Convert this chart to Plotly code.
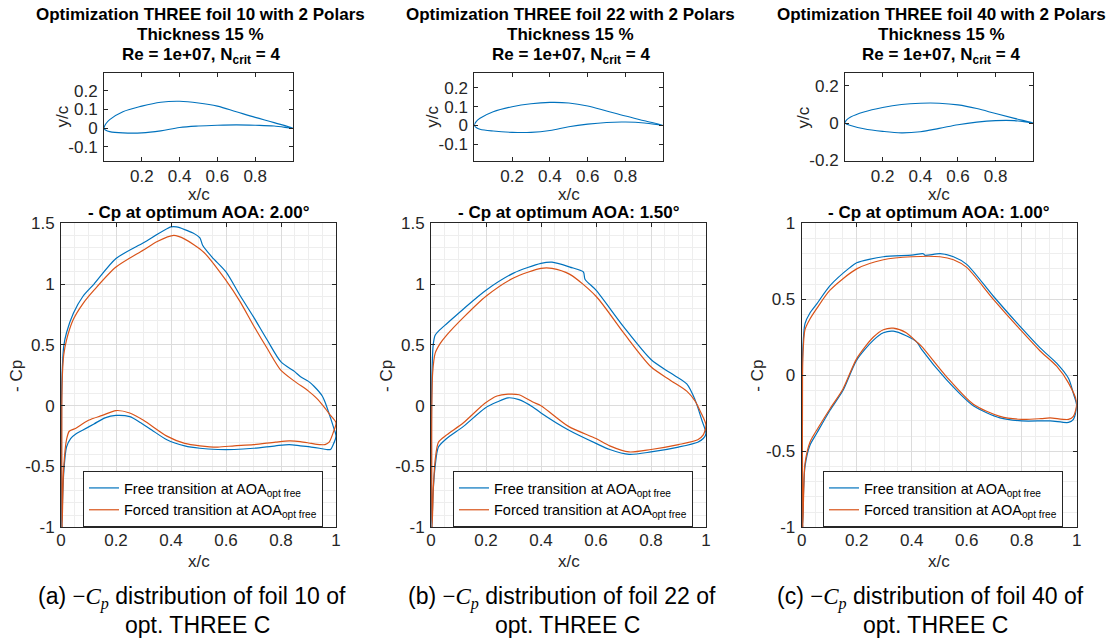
import plotly.graph_objects as go

# ---------------- data ----------------
foil_ids = ["10", "22", "40"]
aoa_opt = ["2.00", "1.50", "1.00"]
caption_letters = ["a", "b", "c"]

cp_x_ticks = [0, 0.2, 0.4, 0.6, 0.8, 1]
cp_x_ticktext = ["0", "0.2", "0.4", "0.6", "0.8", "1"]
cp_y_ticks_12 = [-1, -0.5, 0, 0.5, 1, 1.5]
cp_y_ticktext_12 = ["-1", "-0.5", "0", "0.5", "1", "1.5"]
cp_y_ticks_3 = [-1, -0.5, 0, 0.5, 1]
cp_y_ticktext_3 = ["-1", "-0.5", "0", "0.5", "1"]
foil_x_ticks = [0.2, 0.4, 0.6, 0.8]
foil_x_ticktext = ["0.2", "0.4", "0.6", "0.8"]
foil_y_ticks_12 = [-0.1, 0, 0.1, 0.2]
foil_y_ticktext_12 = ["-0.1", "0", "0.1", "0.2"]
foil_y_ticks_3 = [-0.2, 0, 0.2]
foil_y_ticktext_3 = ["-0.2", "0", "0.2"]

# airfoil geometry (upper TE->LE, lower LE->TE)
foil_x_up = [1.0, 0.9, 0.8, 0.7, 0.6, 0.5, 0.4, 0.3, 0.2, 0.1, 0.03, 0.01, 0.0]
foil_x_lo = [0.0, 0.01, 0.03, 0.1, 0.2, 0.3, 0.4, 0.5, 0.6, 0.7, 0.8, 0.9, 1.0]
foil10_y_up = [0.0, 0.03, 0.058, 0.088, 0.118, 0.135, 0.144, 0.139, 0.118, 0.088, 0.046, 0.024, 0.0]
foil10_y_lo = [0.0, -0.011, -0.018, -0.025, -0.025, -0.014, 0.004, 0.012, 0.016, 0.018, 0.016, 0.012, 0.0]
foil22_y_up = [0.0, 0.025, 0.05, 0.077, 0.104, 0.12, 0.123, 0.116, 0.1, 0.073, 0.038, 0.02, 0.0]
foil22_y_lo = [0.0, -0.011, -0.02, -0.03, -0.037, -0.037, -0.027, -0.007, 0.007, 0.016, 0.018, 0.013, 0.0]
foil40_y_up = [0.0, 0.025, 0.051, 0.078, 0.098, 0.107, 0.107, 0.1, 0.084, 0.06, 0.033, 0.018, 0.0]
foil40_y_lo = [0.0, -0.006, -0.013, -0.031, -0.045, -0.053, -0.047, -0.029, -0.009, 0.005, 0.013, 0.013, 0.0]

# -Cp, foil 10 (free = blue, forced = red)
f10_free_x_up = [1.0, 0.99, 0.98, 0.96, 0.95, 0.92, 0.9, 0.87, 0.85, 0.8, 0.75, 0.7, 0.65, 0.6, 0.55, 0.515, 0.505, 0.48, 0.42, 0.4, 0.3, 0.2, 0.12, 0.08, 0.045, 0.02, 0.01, 0.005, 0.002]
f10_free_y_up = [-0.25, -0.17, -0.1, 0.03, 0.08, 0.16, 0.2, 0.24, 0.28, 0.36, 0.54, 0.73, 0.91, 1.1, 1.22, 1.32, 1.38, 1.42, 1.47, 1.47, 1.34, 1.21, 1.0, 0.9, 0.76, 0.6, 0.49, 0.32, 0.05]
f10_free_x_lo = [0.003, 0.006, 0.01, 0.02, 0.035, 0.055, 0.08, 0.12, 0.16, 0.2, 0.25, 0.29, 0.33, 0.385, 0.45, 0.505, 0.57, 0.63, 0.7, 0.78, 0.83, 0.87, 0.91, 0.94, 0.965, 0.98, 0.99, 1.0]
f10_free_y_lo = [-1.0, -0.75, -0.55, -0.34, -0.27, -0.23, -0.2, -0.15, -0.1, -0.08, -0.09, -0.14, -0.2, -0.28, -0.33, -0.35, -0.36, -0.36, -0.35, -0.33, -0.32, -0.33, -0.34, -0.35, -0.36, -0.36, -0.32, -0.25]
f10_forc_x_up = [1.0, 0.98, 0.96, 0.93, 0.9, 0.85, 0.8, 0.75, 0.7, 0.65, 0.6, 0.52, 0.45, 0.41, 0.35, 0.3, 0.2, 0.12, 0.08, 0.045, 0.02, 0.01, 0.005, 0.003]
f10_forc_y_up = [-0.14, -0.08, -0.02, 0.06, 0.12, 0.2, 0.29, 0.47, 0.66, 0.86, 1.03, 1.26, 1.37, 1.40, 1.35, 1.28, 1.14, 0.95, 0.84, 0.71, 0.54, 0.42, 0.25, 0.0]
f10_forc_x_lo = [0.004, 0.007, 0.01, 0.02, 0.03, 0.05, 0.1, 0.15, 0.2, 0.25, 0.3, 0.385, 0.45, 0.505, 0.57, 0.63, 0.7, 0.78, 0.83, 0.87, 0.91, 0.94, 0.96, 0.975, 0.99, 1.0]
f10_forc_y_lo = [-1.0, -0.7, -0.5, -0.28, -0.21, -0.19, -0.12, -0.08, -0.04, -0.06, -0.12, -0.25, -0.31, -0.33, -0.34, -0.33, -0.32, -0.30, -0.29, -0.295, -0.31, -0.32, -0.32, -0.3, -0.22, -0.14]

# -Cp, foil 22
f22_free_x_up = [1.0, 0.985, 0.96, 0.93, 0.87, 0.8, 0.7, 0.6, 0.56, 0.554, 0.505, 0.44, 0.4, 0.3, 0.2, 0.12, 0.06, 0.03, 0.015, 0.008, 0.004, 0.002]
f22_free_y_up = [-0.23, -0.12, 0.05, 0.18, 0.27, 0.38, 0.65, 0.95, 1.04, 1.1, 1.14, 1.18, 1.17, 1.09, 0.95, 0.8, 0.68, 0.62, 0.58, 0.5, 0.3, 0.0]
f22_free_x_lo = [0.003, 0.008, 0.015, 0.027, 0.057, 0.118, 0.196, 0.24, 0.28, 0.32, 0.37, 0.4, 0.5, 0.6, 0.65, 0.72, 0.8, 0.9, 0.97, 0.99, 1.0]
f22_free_y_lo = [-1.0, -0.7, -0.5, -0.34, -0.27, -0.17, -0.02, 0.03, 0.065, 0.05, -0.01, -0.06, -0.2, -0.31, -0.36, -0.4, -0.38, -0.34, -0.3, -0.27, -0.23]
f22_forc_x_up = [1.0, 0.98, 0.96, 0.93, 0.87, 0.8, 0.7, 0.6, 0.505, 0.44, 0.4, 0.3, 0.2, 0.12, 0.057, 0.033, 0.015, 0.006, 0.003]
f22_forc_y_up = [-0.16, -0.05, 0.04, 0.12, 0.21, 0.32, 0.6, 0.9, 1.08, 1.13, 1.13, 1.05, 0.9, 0.73, 0.58, 0.51, 0.43, 0.27, 0.0]
f22_forc_x_lo = [0.004, 0.009, 0.015, 0.027, 0.057, 0.118, 0.196, 0.24, 0.28, 0.32, 0.37, 0.4, 0.5, 0.6, 0.65, 0.72, 0.8, 0.9, 0.97, 0.99, 1.0]
f22_forc_y_lo = [-1.0, -0.65, -0.45, -0.3, -0.24, -0.14, 0.02, 0.08, 0.095, 0.09, 0.03, 0.0, -0.17, -0.27, -0.33, -0.38, -0.36, -0.32, -0.28, -0.24, -0.16]

# -Cp, foil 40
f40_free_x_up = [1.0, 0.988, 0.97, 0.927, 0.867, 0.8, 0.697, 0.6, 0.552, 0.503, 0.448, 0.442, 0.4, 0.297, 0.2, 0.176, 0.103, 0.055, 0.03, 0.012, 0.004, 0.002]
f40_free_y_up = [-0.2, -0.12, -0.02, 0.08, 0.18, 0.31, 0.52, 0.73, 0.78, 0.8, 0.79, 0.8, 0.79, 0.78, 0.74, 0.71, 0.59, 0.47, 0.41, 0.34, 0.17, 0.0]
f40_free_x_lo = [0.003, 0.007, 0.012, 0.03, 0.055, 0.103, 0.15, 0.2, 0.26, 0.297, 0.333, 0.38, 0.418, 0.436, 0.527, 0.624, 0.721, 0.8, 0.903, 0.97, 0.988, 1.0]
f40_free_y_lo = [-1.0, -0.75, -0.6, -0.46, -0.38, -0.23, -0.1, 0.1, 0.23, 0.28, 0.29, 0.26, 0.22, 0.17, -0.03, -0.2, -0.28, -0.3, -0.3, -0.31, -0.29, -0.2]
f40_forc_x_up = [1.0, 0.97, 0.927, 0.867, 0.8, 0.697, 0.6, 0.552, 0.503, 0.4, 0.297, 0.2, 0.103, 0.055, 0.03, 0.012, 0.006, 0.003]
f40_forc_y_up = [-0.18, -0.05, 0.06, 0.16, 0.29, 0.5, 0.71, 0.76, 0.78, 0.78, 0.76, 0.70, 0.56, 0.44, 0.37, 0.3, 0.19, 0.0]
f40_forc_x_lo = [0.004, 0.008, 0.012, 0.03, 0.055, 0.103, 0.15, 0.2, 0.26, 0.297, 0.333, 0.38, 0.418, 0.436, 0.527, 0.624, 0.721, 0.8, 0.87, 0.903, 0.97, 0.988, 1.0]
f40_forc_y_lo = [-1.0, -0.72, -0.58, -0.44, -0.36, -0.22, -0.09, 0.11, 0.25, 0.30, 0.31, 0.28, 0.22, 0.19, -0.01, -0.19, -0.27, -0.29, -0.285, -0.28, -0.29, -0.27, -0.18]

# ---------------- style / layout ----------------
W, H = 1115, 644
BLUE = "#0072BD"
RED = "#D95319"
AX = "#262626"
FONT = "Liberation Sans, Arial, Helvetica, sans-serif"
SERIF = "'Liberation Serif', 'DejaVu Serif', serif"


def px(x):
    return x / W


def py(y):
    return 1 - y / H


foil_dom_x = [(104, 293), (474.3, 663.3), (845, 1033.3)]
foil_dom_y = (73, 161)
foil_ranges = [(-0.175, 0.295), (-0.19, 0.28), (-0.205, 0.27)]
cp_dom_x = [(61, 336), (431, 706), (801.7, 1076.7)]
cp_dom_y = (223.3, 527.3)
cp_ranges = [(-1, 1.5), (-1, 1.5), (-1, 1)]
legend_pos = [83, 453, 823]
caption_cx = [192, 562, 930]

foils = [(foil10_y_up, foil10_y_lo), (foil22_y_up, foil22_y_lo), (foil40_y_up, foil40_y_lo)]
cps = [
    ((f10_free_x_up, f10_free_y_up, f10_free_x_lo, f10_free_y_lo),
     (f10_forc_x_up, f10_forc_y_up, f10_forc_x_lo, f10_forc_y_lo)),
    ((f22_free_x_up, f22_free_y_up, f22_free_x_lo, f22_free_y_lo),
     (f22_forc_x_up, f22_forc_y_up, f22_forc_x_lo, f22_forc_y_lo)),
    ((f40_free_x_up, f40_free_y_up, f40_free_x_lo, f40_free_y_lo),
     (f40_forc_x_up, f40_forc_y_up, f40_forc_x_lo, f40_forc_y_lo)),
]
cp_yticks = [(cp_y_ticks_12, cp_y_ticktext_12), (cp_y_ticks_12, cp_y_ticktext_12), (cp_y_ticks_3, cp_y_ticktext_3)]
foil_yticks = [(foil_y_ticks_12, foil_y_ticktext_12), (foil_y_ticks_12, foil_y_ticktext_12), (foil_y_ticks_3, foil_y_ticktext_3)]

fig = go.Figure()
layout = dict(
    width=W, height=H, margin=dict(l=0, r=0, t=0, b=0, autoexpand=False),
    paper_bgcolor="white", plot_bgcolor="white",
    font=dict(family=FONT, color=AX),
    annotations=[],
)

axis_common = dict(
    showline=True, linecolor=AX, linewidth=1, mirror="ticks",
    ticks="inside", ticklen=4, tickcolor=AX, tickwidth=1, automargin=False,
    tickfont=dict(family=FONT, size=17, color=AX), zeroline=False,
)

ann = layout["annotations"]


def add_text(x, y, text, size, bold=False, angle=0, color=AX, family=FONT):
    ann.append(dict(
        x=px(x), y=py(y), xref="paper", yref="paper", showarrow=False,
        text=f"<b>{text}</b>" if bold else text, textangle=angle,
        xanchor="center", yanchor="middle",
        font=dict(family=family, size=size, color=color),
    ))


for i in range(3):
    fa = 2 * i + 1
    ca = 2 * i + 2
    sfx_f = "" if fa == 1 else str(fa)
    sfx_c = str(ca)
    # airfoil
    yu, yl = foils[i]
    fig.add_trace(go.Scatter(
        x=foil_x_up + foil_x_lo[1:], y=yu + yl[1:], mode="lines",
        line=dict(color=BLUE, width=1.1, shape="spline", smoothing=1.0),
        xaxis="x" + sfx_f, yaxis="y" + sfx_f, showlegend=False, hoverinfo="skip",
    ))
    layout["xaxis" + sfx_f] = dict(
        axis_common, domain=[px(foil_dom_x[i][0]), px(foil_dom_x[i][1])],
        anchor="y" + sfx_f, range=[0, 1], tickvals=foil_x_ticks,
        ticktext=foil_x_ticktext, showgrid=False, ticklabelstandoff=0,
    )
    layout["yaxis" + sfx_f] = dict(
        axis_common, domain=[py(foil_dom_y[1]), py(foil_dom_y[0])],
        anchor="x" + sfx_f, range=list(foil_ranges[i]), tickvals=foil_yticks[i][0],
        ticktext=foil_yticks[i][1], showgrid=False, ticklabelstandoff=2,
    )
    # Cp
    leg = "legend" if i == 0 else f"legend{i + 1}"
    names = ["Free transition at AOA<sub>opt free</sub>", "Forced transition at AOA<sub>opt free</sub>"]
    for j, (col, series) in enumerate(zip([BLUE, RED], cps[i])):
        xu, yu2, xl, yl2 = series
        fig.add_trace(go.Scatter(
            x=xu + xl, y=yu2 + yl2, mode="lines", name=names[j],
            line=dict(color=col, width=1.2, shape="spline", smoothing=0.75),
            xaxis="x" + sfx_c, yaxis="y" + sfx_c, legend=leg, hoverinfo="skip",
        ))
    layout["xaxis" + sfx_c] = dict(
        axis_common, domain=[px(cp_dom_x[i][0]), px(cp_dom_x[i][1])],
        anchor="y" + sfx_c, range=[0, 1], tickvals=cp_x_ticks, ticktext=cp_x_ticktext,
        showgrid=True, gridcolor="#dcdcdc", gridwidth=1, ticklabelstandoff=-3,
        minor=dict(dtick=0.05, tick0=0, showgrid=True, gridcolor="#eeeeee", ticks=""),
    )
    layout["yaxis" + sfx_c] = dict(
        axis_common, domain=[py(cp_dom_y[1]), py(cp_dom_y[0])],
        anchor="x" + sfx_c, range=list(cp_ranges[i]), tickvals=cp_yticks[i][0],
        ticktext=cp_yticks[i][1], showgrid=True, gridcolor="#dcdcdc", gridwidth=1,
        ticklabelstandoff=2,
        minor=dict(dtick=0.1, tick0=0, showgrid=True, gridcolor="#eeeeee", ticks=""),
    )
    layout[leg] = dict(
        x=px(legend_pos[i]), y=py(471), xanchor="left", yanchor="top",
        bgcolor="white", bordercolor=AX, borderwidth=1,
        font=dict(family=FONT, size=14.5, color="black"), tracegroupgap=0,
        itemwidth=30,
    )

    # texts
    fcx = (foil_dom_x[i][0] + foil_dom_x[i][1]) / 2
    ccx = (cp_dom_x[i][0] + cp_dom_x[i][1]) / 2
    add_text(fcx + 2, 15, f"Optimization THREE foil {foil_ids[i]} with 2 Polars", 17, bold=True, color="black")
    add_text(fcx + 2, 34, "Thickness 15 %", 17, bold=True, color="black")
    add_text(fcx + 2, 56, "Re = 1e+07, N<sub>crit</sub> = 4", 17, bold=True, color="black")
    add_text(foil_dom_x[i][0] - 41.5, 117, "y/c", 17, angle=-90)
    add_text(fcx, 194, "x/c", 17)
    add_text(ccx, 212, f"- Cp at optimum AOA: {aoa_opt[i]}°", 17, bold=True, color="black")
    add_text(cp_dom_x[i][0] - 45, 376, "- Cp", 17, angle=-90)
    add_text(ccx, 561, "x/c", 17)
    math = (f"<span style=\"font-family:{SERIF}\">−<i>C</i>"
            f"<sub><i>p</i></sub></span>")
    add_text(caption_cx[i], 598,
             f"({caption_letters[i]}) {math} distribution of foil {foil_ids[i]} of",
             23, color="black")
    add_text(caption_cx[i] + 5, 625, "opt. THREE C", 23, color="black")

fig.update_layout(**layout)
fig.write_html("out.html")
